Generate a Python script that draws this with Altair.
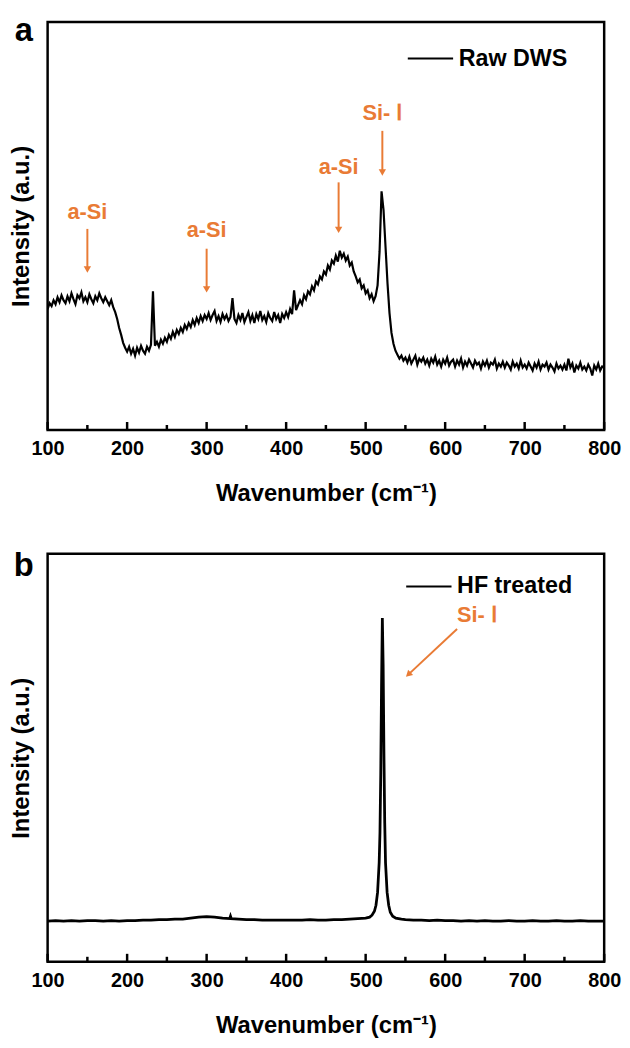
import altair as alt
import pandas as pd

# ---------------- data ----------------
# Panel a: raw DWS Raman spectrum, sampled every 2.5 cm-1 from 100 to 800
wn_a = [100 + 2.5 * i for i in range(281)]
int_a = [
    122, 128, 125, 131, 127, 134, 129, 136, 131, 128,   # 100-122.5
    135, 130, 138, 132, 127, 136, 133, 139, 130, 134,   # 125-147.5
    129, 137, 132, 128, 135, 131, 138, 133, 129, 134,   # 150-172.5
    130, 126, 131, 124, 119, 112, 103, 96, 88, 83,      # 175-197.5
    79, 84, 77, 82, 75, 83, 78, 85, 80, 77,             # 200-222.5
    84, 80, 86, 140, 85, 89, 84, 91, 87, 93,            # 225-247.5
    89, 96, 92, 99, 94, 101, 97, 103, 99, 106,          # 250-272.5
    102, 108, 104, 111, 106, 113, 108, 115, 110, 116,   # 275-297.5
    112, 118, 111, 116, 120, 110, 115, 109, 117, 112,   # 300-322.5
    116, 110, 114, 133, 112, 108, 116, 111, 118, 109,   # 325-347.5
    114, 119, 110, 116, 108, 117, 112, 120, 111, 115,   # 350-372.5
    109, 118, 113, 110, 119, 112, 116, 108, 117, 113,   # 375-397.5
    119, 114, 122, 117, 141, 121, 126, 131, 127, 136,   # 400-422.5
    132, 140, 137, 145, 141, 150, 147, 155, 152, 160,   # 425-447.5
    157, 166, 162, 171, 168, 176, 170, 181, 174, 178,   # 450-472.5
    171, 175, 166, 169, 160, 155, 149, 152, 143, 146,   # 475-497.5
    138, 141, 133, 137, 130, 135, 146, 180, 241, 222,   # 500-522.5
    185, 148, 118, 98, 87, 80, 76, 72, 75, 70,          # 525-547.5
    73, 68, 74, 67, 71, 75, 66, 72, 69, 73,             # 550-572.5
    67, 71, 65, 72, 68, 74, 66, 70, 64, 71,             # 575-597.5
    67, 73, 65, 69, 71, 64, 70, 66, 72, 63,             # 600-622.5
    69, 65, 71, 67, 63, 70, 66, 68, 62, 69,             # 625-647.5
    65, 70, 63, 68, 66, 71, 62, 67, 64, 69,             # 650-672.5
    63, 68, 65, 61, 69, 64, 67, 62, 70, 63,             # 675-697.5
    66, 62, 68, 64, 60, 67, 63, 69, 61, 66,             # 700-722.5
    64, 68, 61, 66, 63, 59, 67, 62, 65, 61,             # 725-747.5
    66, 60, 72, 63, 67, 58, 65, 62, 68, 61,             # 750-772.5
    64, 60, 66, 62, 55, 65, 61, 67, 60, 64,             # 775-797.5
    63,                                                 # 800
]

# Panel b: HF treated spectrum
wn_b = [100, 110, 120, 130, 140, 150, 160, 170, 180, 190,
        200, 210, 220, 230, 240, 250, 260, 270, 280, 290,
        300, 310, 320, 329, 330, 331, 340, 350, 360, 370, 380, 390,
        400, 410, 420, 430, 440, 450, 460, 470, 480, 490,
        500, 505, 508, 511, 513, 515, 517, 518, 519, 520, 521, 522, 523, 524, 525, 527, 529, 531, 534, 538, 545,
        550, 560, 570, 580, 590, 600, 610, 620, 630, 640,
        650, 660, 670, 680, 690, 700, 710, 720, 730, 740,
        750, 760, 770, 780, 790, 800]
int_b = [41, 41.5, 41, 41.5, 41, 41.5, 41.5, 41, 41.5, 41,
         41.5, 41.5, 42, 42, 42.5, 42.5, 43, 43, 44, 45,
         45.5, 45, 44, 43.5, 46, 43.5, 43, 42.5, 42.5, 42, 42, 42,
         42, 42, 42, 42.5, 42, 42, 42.5, 42.5, 43, 43.5,
         44, 45, 47, 51, 57, 70, 100, 130, 190, 280, 347, 300, 210, 140, 100, 70, 57, 50, 46, 44, 43,
         42.5, 42, 42, 41.5, 42, 41.5, 41.5, 41, 41.5, 41,
         41.5, 41, 41, 41.5, 41, 41, 41.5, 41, 41, 41.5,
         41, 41, 41.5, 41, 41, 41]

major_ticks = [100, 200, 300, 400, 500, 600, 700, 800]
minor_ticks = [150, 250, 350, 450, 550, 650, 750]

# annotations panel a
ann_a_label = ["a-Si", "a-Si", "a-Si", "Si- Ⅰ"]
ann_a_x = [150, 300, 466, 521]
ann_a_text_y = [220, 202, 265, 320]
ann_a_arrow_from = [203, 183, 250, 302]
ann_a_arrow_to = [158, 138, 198, 256]

# annotation panel b
ann_b_label = ["Si- Ⅰ"]
ann_b_text = [(640, 350)]
ann_b_arrow = [(615, 336, 551, 288)]

# legends
leg_a = ("Raw DWS", 553, 610, 617, 375)
leg_b = ("HF treated", 551, 608, 615, 379)

ORANGE = "#E97B35"
FONT = "Liberation Sans"
W = 562
H = 412
XDOM = [100, 800]

X_AXIS = alt.Axis(
    title="Wavenumber (cm⁻¹)", values=major_ticks, format="d",
    ticks=False, domain=False, grid=False, labelFlush=False,
    labelPadding=9, titlePadding=23, labelFontSize=20, titleFontSize=24,
    labelFont=FONT, titleFont=FONT, labelFontWeight="bold", titleFontWeight="bold",
    labelColor="black", titleColor="black")
Y_AXIS = alt.Axis(
    title="Intensity (a.u.)", labels=False, ticks=False, domain=False, grid=False,
    titlePadding=14, titleFontSize=24, titleFont=FONT, titleFontWeight="bold",
    titleColor="black")


def panel(wn, inten, letter, letter_y, legend, stroke_w, ann_fn):
    xs = alt.Scale(domain=XDOM, nice=False, zero=False)
    ys = alt.Scale(domain=[0, H], nice=False)

    def X(f):
        return alt.X(f, type="quantitative", scale=xs, axis=X_AXIS)

    def Y(f):
        return alt.Y(f, type="quantitative", scale=ys, axis=Y_AXIS)

    df = pd.DataFrame({"w": wn, "h": inten})
    line = alt.Chart(df).mark_line(color="black", strokeWidth=stroke_w, clip=True,
                                   strokeJoin="miter").encode(x=X("w"), y=Y("h"))
    major = alt.Chart(pd.DataFrame({"t": major_ticks})).mark_rule(color="black", strokeWidth=2.5).encode(
        x=X("t"), y=alt.value(H), y2=alt.value(H - 8))
    minor = alt.Chart(pd.DataFrame({"t": minor_ticks})).mark_rule(color="black", strokeWidth=2.5).encode(
        x=X("t"), y=alt.value(H), y2=alt.value(H - 5))

    name, lx1, lx2, tx, ly = legend
    leg_line = alt.Chart(pd.DataFrame({"x1": [lx1], "x2": [lx2], "y": [ly]})).mark_rule(
        color="black", strokeWidth=2).encode(x=X("x1"), x2="x2:Q", y=Y("y"))
    leg_text = alt.Chart(pd.DataFrame({"x": [tx], "y": [ly], "t": [name]})).mark_text(
        align="left", baseline="middle", font=FONT, fontSize=23.5, fontWeight="bold", color="black").encode(
        x=X("x"), y=Y("y"), text="t:N")

    letter_t = alt.Chart(pd.DataFrame({"t": [letter]})).mark_text(
        align="center", baseline="alphabetic", font=FONT, fontSize=33, fontWeight="bold",
        color="black").encode(x=alt.value(-24), y=alt.value(letter_y), text="t:N")

    layers = [line, major, minor, leg_line, leg_text, letter_t] + ann_fn(X, Y)
    return alt.layer(*layers).properties(width=W, height=H)


def ann_a(X, Y):
    df = pd.DataFrame({"label": ann_a_label, "x": ann_a_x, "ty": ann_a_text_y,
                       "y1": ann_a_arrow_from, "y2": ann_a_arrow_to})
    df["hy"] = df["y2"] + 4
    txt = alt.Chart(df).mark_text(font=FONT, fontSize=22, fontWeight="bold", color=ORANGE,
                                  baseline="middle").encode(x=X("x"), y=Y("ty"), text="label:N")
    shaft = alt.Chart(df).mark_rule(color=ORANGE, strokeWidth=2).encode(
        x=X("x"), y=Y("y1"), y2="hy:Q")
    head = alt.Chart(df).mark_point(shape="triangle-down", filled=True, size=55, color=ORANGE,
                                    opacity=1).encode(x=X("x"), y=Y("hy"))
    return [shaft, head, txt]


def ann_b(X, Y):
    tx, ty = ann_b_text[0]
    x1, y1, x2, y2 = ann_b_arrow[0]
    df_t = pd.DataFrame({"label": ann_b_label, "x": [tx], "y": [ty]})
    txt = alt.Chart(df_t).mark_text(font=FONT, fontSize=22, fontWeight="bold", color=ORANGE,
                                    baseline="middle").encode(x=X("x"), y=Y("y"), text="label:N")
    df_a = pd.DataFrame({"x1": [x1], "y1": [y1], "x2": [x2 + 3.6], "y2": [y2 + 2.7]})
    shaft = alt.Chart(df_a).mark_rule(color=ORANGE, strokeWidth=2).encode(
        x=X("x1"), y=Y("y1"), x2="x2:Q", y2="y2:Q")
    head = alt.Chart(df_a).mark_point(shape="triangle", filled=True, size=55, color=ORANGE,
                                      opacity=1, angle=227).encode(x=X("x2"), y=Y("y2"))
    return [shaft, head, txt]


pa = panel(wn_a, int_a, "a", 19, leg_a, 2.2, ann_a)
pb = panel(wn_b, int_b, "b", 22, leg_b, 2.8, ann_b)

chart = alt.vconcat(pa, pb, spacing=125, bounds="flush").properties(
    padding={"left": 0, "top": 0, "right": 0, "bottom": 0}, background="white"
).configure_view(stroke="black", strokeWidth=2.5)

chart.save("out.html", embed_options={"renderer": "svg", "actions": False})
